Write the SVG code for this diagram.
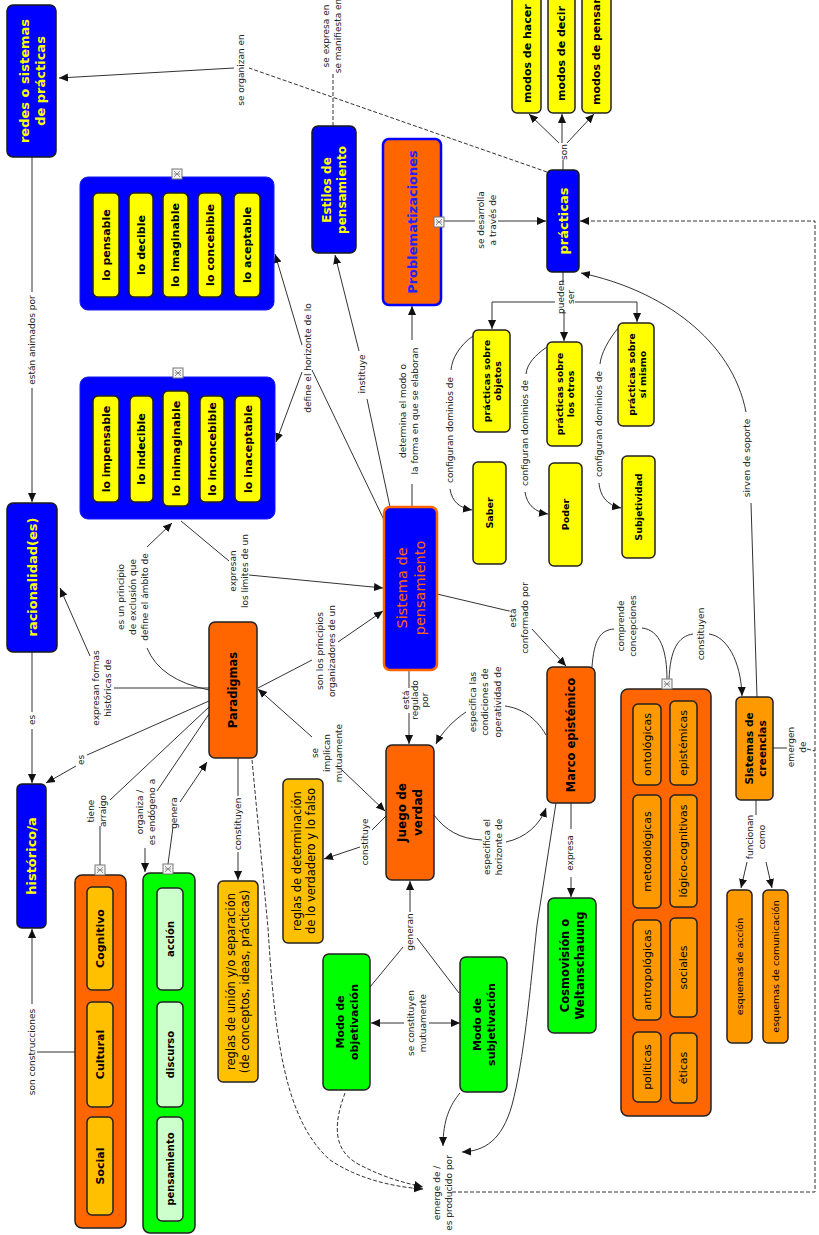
<svg xmlns="http://www.w3.org/2000/svg" width="819" height="1235" viewBox="0 0 819 1235">
<defs>
<style>
text{font-family:"DejaVu Sans",Verdana,sans-serif;text-anchor:middle;dominant-baseline:central}
.l{font-size:9px;fill:#222}
.nb{font-weight:bold;fill:#000}
.ny{font-weight:bold;fill:#FFFF00}
.nn{fill:#000}
.c{fill:none;stroke:#333;stroke-width:1}
.d{stroke-dasharray:4 2}
.ar{marker-end:url(#a)}
.blue{fill:#0000FF;stroke:#1a1a1a;stroke-width:1.5}
.bgrp{fill:#0000FF;stroke:#1a1aee;stroke-width:1}
.yel{fill:#FFFF00;stroke:#222;stroke-width:1.5}
.org{fill:#FF6600;stroke:#222;stroke-width:1.5}
.gold{fill:#FFC000;stroke:#222;stroke-width:1.5}
.amb{fill:#FF9900;stroke:#222;stroke-width:1.5}
.grn{fill:#00FF00;stroke:#222;stroke-width:1.5}
.lgr{fill:#CCFFCC;stroke:#222;stroke-width:1.5}
</style>
<marker id="a" viewBox="0 0 10 10" refX="10" refY="5" markerWidth="9" markerHeight="9" orient="auto" markerUnits="userSpaceOnUse"><path d="M0,0.5 L10,5 L0,9.5z" fill="#111"/></marker>
<g id="ic"><rect x="-5" y="-5" width="10" height="10" fill="#f4f4f4" stroke="#777" stroke-width="1"/><path d="M-3,-3 L3,3 M3,-3 L-3,3 M-3,0 h6" stroke="#777" stroke-width="0.8" fill="none"/></g>
</defs>
<rect width="819" height="1235" fill="#fff"/>

<g id="connectors">
<path class="c d" d="M547,172 L249,68"/>
<path class="c ar" d="M234,68 L59,78"/>
<path class="c d" d="M333,126 L333,74"/>
<path class="c" d="M32,157 L32,292"/>
<path class="c ar" d="M32,388 L32,502"/>
<path class="c" d="M32,652 L32,712"/>
<path class="c ar" d="M32,729 L32,783"/>
<path class="c ar" d="M32,1004 L32,929"/>
<path class="c" d="M37,1052 L75,1052"/>
<path class="c" d="M209,688 L114,688"/>
<path class="c ar" d="M90,656 L60,588"/>
<path class="c" d="M209,690 Q160,680 147,648"/>
<path class="c ar" d="M147,547 L172,523"/>
<path class="c" d="M181,521 L229,561"/>
<path class="c ar" d="M249,575 L383,588"/>
<path class="c" d="M385,522 L312,370"/>
<path class="c ar" d="M302,372 L276,442"/>
<path class="c ar" d="M302,345 L275,254"/>
<path class="c" d="M390,507 L367,399"/>
<path class="c ar" d="M359,351 L335,255"/>
<path class="c" d="M412,484 L412,507"/>
<path class="c ar" d="M412,340 L412,306"/>
<path class="c" d="M441,221 L475,221"/>
<path class="c ar" d="M498,221 L546,221"/>
<path class="c" d="M563,170 L563,160"/>
<path class="c ar" d="M559,143 L529,114"/>
<path class="c ar" d="M562,143 L562,114"/>
<path class="c ar" d="M567,143 L594,114"/>
<path class="c" d="M563,272 L563,284"/>
<path class="c ar" d="M555,302 L492,302 L492,329"/>
<path class="c ar" d="M575,302 L637,302 L637,322"/>
<path class="c ar" d="M564,310 L564,341"/>
<path class="c" d="M473,336 C460,345 452,358 451,370"/>
<path class="c ar" d="M450,489 C452,502 460,508 472,510"/>
<path class="c" d="M547,347 C535,355 527,364 526,374"/>
<path class="c ar" d="M525,492 C527,505 535,512 548,514"/>
<path class="c" d="M619,327 C608,340 601,354 600,364"/>
<path class="c ar" d="M599,483 C600,495 606,505 621,508"/>
<path class="c" d="M757,697 L751,503"/>
<path class="c ar" d="M746,412 C732,340 662,290 581,273"/>
<path class="c d ar" d="M452,1192 L815,1192 L815,221 L580,221"/>
<path class="c" d="M773,748 L787,748"/>
<path class="c d" d="M807,749 L815,751"/>
<path class="c" d="M756,800 L756,815"/>
<path class="c ar" d="M747,862 L741,888"/>
<path class="c ar" d="M766,862 L772,888"/>
<path class="c" d="M437,594 L509,611"/>
<path class="c ar" d="M532,629 L566,666"/>
<path class="c" d="M592,667 C594,640 600,630 614,629"/>
<path class="c" d="M642,628 C660,630 667,650 667,680"/>
<path class="c" d="M669,680 C670,650 678,636 693,634"/>
<path class="c ar" d="M709,634 C726,636 741,660 742,696"/>
<path class="c" d="M546,735 C535,716 520,708 505,706"/>
<path class="c ar" d="M466,712 C454,720 442,732 436,744"/>
<path class="c" d="M434,815 C445,830 460,839 482,840"/>
<path class="c ar" d="M506,842 C525,838 540,825 546,808"/>
<path class="c" d="M571,803 L571,829"/>
<path class="c ar" d="M571,877 L571,897"/>
<path class="c ar" d="M556,803 L537,925 C530,990 524,1060 512,1105 C502,1140 485,1151 462,1152"/>
<path class="c ar" d="M460,1093 C450,1105 443,1120 443,1146"/>
<path class="c d ar" d="M345,1093 C335,1120 330,1150 360,1165 C385,1178 405,1183 423,1187"/>
<path class="c d ar" d="M252,760 L268,928 C275,1040 285,1120 330,1160 C360,1180 395,1187 423,1189"/>
<path class="c ar" d="M404,1023 L371,1023"/>
<path class="c ar" d="M429,1023 L460,1023"/>
<path class="c ar" d="M410,912 L410,881"/>
<path class="c" d="M403,947 L370,987"/>
<path class="c" d="M417,938 L459,993"/>
<path class="c" d="M386,816 L372,830"/>
<path class="c ar" d="M360,847 L324,859"/>
<path class="c ar" d="M312,737 L258,689"/>
<path class="c ar" d="M342,770 L385,811"/>
<path class="c" d="M258,688 L312,660"/>
<path class="c ar" d="M338,642 L383,611"/>
<path class="c" d="M409,670 L409,688"/>
<path class="c ar" d="M409,713 L409,744"/>
<path class="c" d="M238,758 L238,796"/>
<path class="c ar" d="M238,852 L238,880"/>
<path class="c" d="M168,864 L173,827"/>
<path class="c ar" d="M180,802 L207,762"/>
<path class="c" d="M209,714 L157,791"/>
<path class="c ar" d="M145,848 L145,872"/>
<path class="c" d="M209,707 L110,800"/>
<path class="c" d="M100,826 L100,865"/>
<path class="c" d="M209,701 L87,755"/>
<path class="c ar" d="M76,766 L46,783"/>
</g>

<g id="labels">
<text class="l" transform="translate(241,70) rotate(-90)">se organizan en</text>
<text class="l" transform="translate(332,36) rotate(-90)"><tspan x="0" y="-6">se expresa en</tspan><tspan x="0" y="6">se manifiesta en</tspan></text>
<text class="l" transform="translate(32,340) rotate(-90)">están animados por</text>
<text class="l" transform="translate(32,720) rotate(-90)">es</text>
<text class="l" transform="translate(32,1052) rotate(-90)">son construcciones</text>
<text class="l" transform="translate(102,688) rotate(-90)"><tspan x="0" y="-6">expresan formas</tspan><tspan x="0" y="6">históricas de</tspan></text>
<text class="l" transform="translate(133,597) rotate(-90)"><tspan x="0" y="-12">es un principio</tspan><tspan x="0" y="0">de exclusión que</tspan><tspan x="0" y="12">define el ámbito de</tspan></text>
<text class="l" transform="translate(239,571) rotate(-90)"><tspan x="0" y="-6">expresan</tspan><tspan x="0" y="6">los límites de un</tspan></text>
<text class="l" transform="translate(308,358) rotate(-90)">define el horizonte de lo</text>
<text class="l" transform="translate(362,374) rotate(-90)">instituye</text>
<text class="l" transform="translate(409,411) rotate(-90)"><tspan x="0" y="-6">determina el modo o</tspan><tspan x="0" y="6">la forma en que se elaboran</tspan></text>
<text class="l" transform="translate(487,220) rotate(-90)"><tspan x="0" y="-6">se desarrolla</tspan><tspan x="0" y="6">a través de</tspan></text>
<text class="l" transform="translate(564,152) rotate(-90)">son</text>
<text class="l" transform="translate(566,297) rotate(-90)"><tspan x="0" y="-5">pueden</tspan><tspan x="0" y="5">ser</tspan></text>
<text class="l" transform="translate(450,430) rotate(-90)">configuran dominios de</text>
<text class="l" transform="translate(525,433) rotate(-90)">configuran dominios de</text>
<text class="l" transform="translate(599,424) rotate(-90)">configuran dominios de</text>
<text class="l" transform="translate(747,458) rotate(-90)">sirven de soporte</text>
<text class="l" transform="translate(519,618) rotate(-90)"><tspan x="0" y="-6">está</tspan><tspan x="0" y="6">conformado por</tspan></text>
<text class="l" transform="translate(627,626) rotate(-90)"><tspan x="0" y="-6">comprende</tspan><tspan x="0" y="6">concepciones</tspan></text>
<text class="l" transform="translate(701,634) rotate(-90)">constituyen</text>
<text class="l" transform="translate(797,747) rotate(-90)"><tspan x="0" y="-6">emergen</tspan><tspan x="0" y="6">de</tspan></text>
<text class="l" transform="translate(756,837) rotate(-90)"><tspan x="0" y="-6">funcionan</tspan><tspan x="0" y="6">como</tspan></text>
<text class="l" transform="translate(326,651) rotate(-90)"><tspan x="0" y="-6">son los principios</tspan><tspan x="0" y="6">organizadores de un</tspan></text>
<text class="l" transform="translate(327,753) rotate(-90)"><tspan x="0" y="-12">se</tspan><tspan x="0" y="0">implican</tspan><tspan x="0" y="12">mutuamente</tspan></text>
<text class="l" transform="translate(415,700) rotate(-90)"><tspan x="0" y="-9.5">está</tspan><tspan x="0" y="0">regulado</tspan><tspan x="0" y="9.5">por</tspan></text>
<text class="l" transform="translate(485,702) rotate(-90)"><tspan x="0" y="-12.5">especifica las</tspan><tspan x="0" y="0">condiciones de</tspan><tspan x="0" y="12.5">operatividad de</tspan></text>
<text class="l" transform="translate(493,847) rotate(-90)"><tspan x="0" y="-6">especifica el</tspan><tspan x="0" y="6">horizonte de</tspan></text>
<text class="l" transform="translate(365,842) rotate(-90)">constituye</text>
<text class="l" transform="translate(410,932) rotate(-90)">generan</text>
<text class="l" transform="translate(417,1023) rotate(-90)"><tspan x="0" y="-6">se constituyen</tspan><tspan x="0" y="6">mutuamente</tspan></text>
<text class="l" transform="translate(238,824) rotate(-90)">constituyen</text>
<text class="l" transform="translate(174,813) rotate(-90)">genera</text>
<text class="l" transform="translate(146,812) rotate(-90)"><tspan x="0" y="-6">organiza /</tspan><tspan x="0" y="6">es endógeno a</tspan></text>
<text class="l" transform="translate(97,811) rotate(-90)"><tspan x="0" y="-6">tiene</tspan><tspan x="0" y="6">arraigo</tspan></text>
<text class="l" transform="translate(81,760) rotate(-90)">es</text>
<text class="l" transform="translate(570,853) rotate(-90)">expresa</text>
<text class="l" transform="translate(443,1193) rotate(-90)"><tspan x="0" y="-6">emerge de /</tspan><tspan x="0" y="6">es producido por</tspan></text>
</g>

<g id="redes"><rect class="blue" x="7" y="5" width="49" height="152" rx="6"/><text class="ny" font-size="13" transform="translate(31.5,81) rotate(-90)"><tspan x="0" y="-8">redes o sistemas</tspan><tspan x="0" y="8">de prácticas</tspan></text></g>
<g id="racionalidad"><rect class="blue" x="7" y="503" width="50" height="149" rx="6"/><text class="ny" font-size="13" transform="translate(32,577) rotate(-90)">racionalidad(es)</text></g>
<g id="historico"><rect class="blue" x="17" y="784" width="29" height="144" rx="5"/><text class="ny" font-size="13" transform="translate(31.5,856) rotate(-90)">histórico/a</text></g>

<g id="grupo-pensable">
<rect class="bgrp" x="80" y="177" width="194" height="133" rx="8"/>
<rect class="yel" x="93" y="193" width="26" height="104" rx="5"/>
<rect class="yel" x="129" y="193" width="24" height="104" rx="5"/>
<rect class="yel" x="163" y="193" width="25" height="104" rx="5"/>
<rect class="yel" x="198" y="193" width="24" height="104" rx="5"/>
<rect class="yel" x="234" y="193" width="26" height="104" rx="5"/>
<g class="nb" font-size="11">
<text transform="translate(106,245) rotate(-90)">lo pensable</text>
<text transform="translate(141,245) rotate(-90)">lo decible</text>
<text transform="translate(175.5,245) rotate(-90)">lo imaginable</text>
<text transform="translate(210,245) rotate(-90)">lo concebible</text>
<text transform="translate(247,245) rotate(-90)">lo aceptable</text>
</g>
<use href="#ic" x="177" y="174"/>
</g>

<g id="grupo-impensable">
<rect class="bgrp" x="80" y="377" width="195" height="142" rx="8"/>
<rect class="yel" x="93" y="396" width="26" height="106" rx="5"/>
<rect class="yel" x="130" y="396" width="23" height="106" rx="5"/>
<rect class="yel" x="163" y="391" width="26" height="115" rx="5"/>
<rect class="yel" x="200" y="396" width="24" height="106" rx="5"/>
<rect class="yel" x="235" y="396" width="26" height="106" rx="5"/>
<g class="nb" font-size="11">
<text transform="translate(106,449) rotate(-90)">lo impensable</text>
<text transform="translate(141.5,449) rotate(-90)">lo indecible</text>
<text transform="translate(176,448.5) rotate(-90)">lo inimaginable</text>
<text transform="translate(212,449) rotate(-90)">lo inconcebible</text>
<text transform="translate(248,449) rotate(-90)">lo inaceptable</text>
</g>
<use href="#ic" x="178" y="373"/>
</g>

<g id="estilos"><rect class="blue" x="312" y="126" width="44" height="127" rx="6"/><text class="ny" font-size="12" transform="translate(334,190) rotate(-90)"><tspan x="0" y="-7.5">Estilos de</tspan><tspan x="0" y="7.5">pensamiento</tspan></text></g>
<g id="problematizaciones"><rect x="383" y="139" width="58" height="166" rx="6" fill="#FF6600" stroke="#0000FF" stroke-width="2.5"/><text font-weight="bold" font-size="13" fill="#2222FF" transform="translate(412,222) rotate(-90)">Problematizaciones</text><use href="#ic" x="439" y="222"/></g>
<g id="practicas"><rect class="blue" x="547" y="170" width="32" height="102" rx="5"/><text class="ny" font-size="13" transform="translate(563,221) rotate(-90)">prácticas</text></g>

<g id="modos-hacer"><rect class="yel" x="512" y="-10" width="29" height="123" rx="5"/><text class="nb" font-size="11" style="text-anchor:start" transform="translate(527,103) rotate(-90)">modos de hacer</text></g>
<g id="modos-decir"><rect class="yel" x="548" y="-10" width="27" height="123" rx="5"/><text class="nb" font-size="11" style="text-anchor:start" transform="translate(561.5,101) rotate(-90)">modos de decir</text></g>
<g id="modos-pensar"><rect class="yel" x="582" y="-10" width="29" height="123" rx="5"/><text class="nb" font-size="11" style="text-anchor:start" transform="translate(596.5,105) rotate(-90)">modos de pensar</text></g>

<g id="p-objetos"><rect class="yel" x="473" y="330" width="37" height="102" rx="5"/><text class="nb" font-size="9.5" transform="translate(491.5,381) rotate(-90)"><tspan x="0" y="-5.5">prácticas sobre</tspan><tspan x="0" y="5.5">objetos</tspan></text></g>
<g id="p-otros"><rect class="yel" x="547" y="342" width="35" height="104" rx="5"/><text class="nb" font-size="9.5" transform="translate(564.5,394) rotate(-90)"><tspan x="0" y="-5.5">prácticas sobre</tspan><tspan x="0" y="5.5">los otros</tspan></text></g>
<g id="p-mismo"><rect class="yel" x="618" y="323" width="36" height="103" rx="5"/><text class="nb" font-size="9.5" transform="translate(636,374.5) rotate(-90)"><tspan x="0" y="-5.5">prácticas sobre</tspan><tspan x="0" y="5.5">sí mismo</tspan></text></g>
<g id="saber"><rect class="yel" x="473" y="462" width="33" height="102" rx="5"/><text class="nb" font-size="9.5" transform="translate(489.5,513) rotate(-90)">Saber</text></g>
<g id="poder"><rect class="yel" x="549" y="463" width="33" height="103" rx="5"/><text class="nb" font-size="9.5" transform="translate(565.5,514.5) rotate(-90)">Poder</text></g>
<g id="subjetividad"><rect class="yel" x="622" y="456" width="33" height="102" rx="5"/><text class="nb" font-size="9.5" transform="translate(638.5,507) rotate(-90)">Subjetividad</text></g>

<g id="sistema"><rect x="384" y="507" width="53" height="163" rx="6" fill="#0000FF" stroke="#FF6600" stroke-width="2.5"/><text font-size="14.5" fill="#FF6600" transform="translate(410.5,588) rotate(-90)"><tspan x="0" y="-9">Sistema de</tspan><tspan x="0" y="9">pensamiento</tspan></text></g>
<g id="paradigmas"><rect class="org" x="209" y="622" width="48" height="136" rx="6"/><text class="nb" font-size="11.5" transform="translate(233,690) rotate(-90)">Paradigmas</text></g>
<g id="juego"><rect class="org" x="386" y="745" width="48" height="135" rx="6"/><text class="nb" font-size="12" transform="translate(410,812.5) rotate(-90)"><tspan x="0" y="-8">Juego de</tspan><tspan x="0" y="8">verdad</tspan></text></g>
<g id="reglas-det"><rect class="gold" x="283" y="779" width="40" height="164" rx="5"/><text class="nn" font-size="11.5" transform="translate(303.5,861) rotate(-90)"><tspan x="0" y="-7">reglas de determinación</tspan><tspan x="0" y="7">de lo verdadero y lo falso</tspan></text></g>
<g id="reglas-union"><rect class="gold" x="218" y="881" width="40" height="201" rx="5"/><text class="nn" font-size="11.5" transform="translate(238,981.5) rotate(-90)"><tspan x="0" y="-7">reglas de unión y/o separación</tspan><tspan x="0" y="7">(de conceptos, ideas, prácticas)</tspan></text></g>

<g id="grupo-social">
<rect class="org" x="75" y="875" width="51" height="353" rx="7"/>
<rect class="gold" x="87" y="887" width="26" height="103" rx="5"/>
<rect class="gold" x="87" y="1002" width="26" height="105" rx="5"/>
<rect class="gold" x="87" y="1117" width="26" height="98" rx="5"/>
<g class="nb" font-size="11">
<text transform="translate(100,938.5) rotate(-90)">Cognitivo</text>
<text transform="translate(100,1054.5) rotate(-90)">Cultural</text>
<text transform="translate(100,1166) rotate(-90)">Social</text>
</g>
<use href="#ic" x="100" y="870"/>
</g>
<g id="grupo-pensamiento">
<rect class="grn" x="143" y="873" width="52" height="360" rx="7"/>
<rect class="lgr" x="157" y="888" width="26" height="102" rx="5"/>
<rect class="lgr" x="157" y="1002" width="26" height="105" rx="5"/>
<rect class="lgr" x="157" y="1117" width="26" height="104" rx="5"/>
<g class="nb" font-size="10">
<text transform="translate(170,939) rotate(-90)">acción</text>
<text transform="translate(170,1054.5) rotate(-90)">discurso</text>
<text transform="translate(170,1169) rotate(-90)">pensamiento</text>
</g>
<use href="#ic" x="168" y="869"/>
</g>

<g id="modo-obj"><rect class="grn" x="323" y="954" width="47" height="136" rx="6"/><text class="nb" font-size="11" transform="translate(347,1022) rotate(-90)"><tspan x="0" y="-7">Modo de</tspan><tspan x="0" y="7">objetivación</tspan></text></g>
<g id="modo-subj"><rect class="grn" x="460" y="957" width="47" height="135" rx="6"/><text class="nb" font-size="11" transform="translate(483.5,1024.5) rotate(-90)"><tspan x="0" y="-7">Modo de</tspan><tspan x="0" y="7">subjetivación</tspan></text></g>
<g id="cosmovision"><rect class="grn" x="548" y="898" width="48" height="135" rx="6"/><text class="nb" font-size="11.5" transform="translate(572,965.5) rotate(-90)"><tspan x="0" y="-7.5">Cosmovisión o</tspan><tspan x="0" y="7.5">Weltanschauung</tspan></text></g>
<g id="marco"><rect class="org" x="547" y="667" width="48" height="136" rx="6"/><text class="nb" font-size="11.5" transform="translate(571,735) rotate(-90)">Marco epistémico</text></g>

<g id="grupo-concepciones">
<rect class="org" x="621" y="689" width="90" height="427" rx="7"/>
<rect class="amb" x="633" y="704" width="28" height="81" rx="5"/>
<rect class="amb" x="670" y="701" width="27" height="84" rx="5"/>
<rect class="amb" x="633" y="795" width="28" height="113" rx="5"/>
<rect class="amb" x="670" y="795" width="27" height="112" rx="5"/>
<rect class="amb" x="633" y="920" width="28" height="100" rx="5"/>
<rect class="amb" x="670" y="918" width="27" height="99" rx="5"/>
<rect class="amb" x="633" y="1032" width="28" height="70" rx="5"/>
<rect class="amb" x="670" y="1033" width="27" height="70" rx="5"/>
<g class="nn" font-size="11">
<text transform="translate(647,744.5) rotate(-90)">ontológicas</text>
<text transform="translate(683.5,743) rotate(-90)">epistémicas</text>
<text transform="translate(647,851.5) rotate(-90)">metodológicas</text>
<text transform="translate(683.5,851) rotate(-90)">lógico-cognitivas</text>
<text transform="translate(647,970) rotate(-90)">antropológicas</text>
<text transform="translate(683.5,967.5) rotate(-90)">sociales</text>
<text transform="translate(647,1067) rotate(-90)">políticas</text>
<text transform="translate(683.5,1068) rotate(-90)">éticas</text>
</g>
<use href="#ic" x="667" y="684"/>
</g>

<g id="creencias"><rect class="amb" x="736" y="697" width="37" height="103" rx="5"/><text class="nb" font-size="10.5" transform="translate(755,748.5) rotate(-90)"><tspan x="0" y="-6.5">Sistemas de</tspan><tspan x="0" y="6.5">creencias</tspan></text></g>
<g id="esq-accion"><rect class="amb" x="727" y="890" width="25" height="153" rx="5"/><text class="nn" font-size="9.5" transform="translate(739.5,966.5) rotate(-90)">esquemas de acción</text></g>
<g id="esq-comunicacion"><rect class="amb" x="763" y="890" width="25" height="153" rx="5"/><text class="nn" font-size="9.5" transform="translate(775.5,966.5) rotate(-90)">esquemas de comunicación</text></g>
</svg>
